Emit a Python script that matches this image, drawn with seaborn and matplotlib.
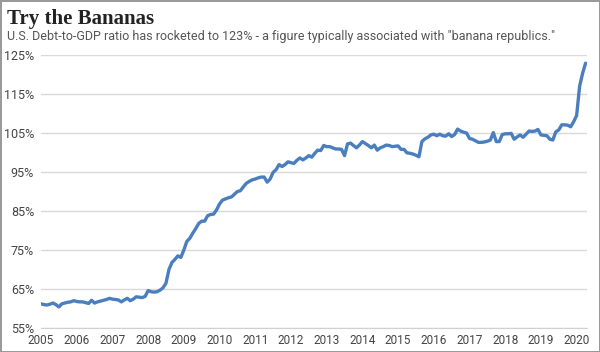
import numpy as np
import pandas as pd
import matplotlib.pyplot as plt
import seaborn as sns

# monthly debt-to-GDP ratio (%), Jan 2005 - Apr 2020
ratio_2005 = [61.2, 61.0, 60.9, 61.1, 61.4, 61.0, 60.4, 61.2, 61.4, 61.6, 61.7, 62.0]
ratio_2006 = [61.8, 61.7, 61.7, 61.5, 61.3, 62.1, 61.4, 61.7, 61.9, 62.1, 62.3, 62.6]
ratio_2007 = [62.4, 62.3, 62.2, 61.7, 62.2, 62.6, 62.0, 62.4, 63.0, 62.9, 62.8, 63.1]
ratio_2008 = [64.6, 64.3, 64.2, 64.3, 64.7, 65.3, 66.5, 70.0, 71.8, 72.6, 73.5, 73.1]
ratio_2009 = [75.0, 77.2, 78.0, 79.3, 80.5, 81.8, 82.4, 82.4, 83.8, 84.1, 84.2, 85.3]
ratio_2010 = [86.8, 87.8, 88.1, 88.4, 88.6, 89.3, 90.0, 90.2, 91.2, 92.1, 92.6, 93.0]
ratio_2011 = [93.2, 93.5, 93.7, 93.7, 92.4, 93.2, 94.9, 95.6, 96.9, 96.4, 96.9, 97.6]
ratio_2012 = [97.4, 97.2, 98.0, 98.6, 98.1, 98.6, 99.2, 98.8, 99.8, 100.6, 100.5, 101.8]
ratio_2013 = [101.5, 101.5, 101.2, 100.9, 100.9, 100.8, 99.2, 102.2, 102.4, 101.8, 101.2, 101.9]
ratio_2014 = [102.8, 102.3, 101.8, 101.2, 101.9, 100.6, 101.2, 101.5, 101.9, 101.8, 101.5, 101.6]
ratio_2015 = [101.7, 100.8, 100.8, 99.9, 99.8, 99.6, 99.3, 98.9, 102.8, 103.5, 103.9, 104.5]
ratio_2016 = [104.7, 104.3, 104.7, 104.3, 104.2, 104.8, 104.1, 104.6, 106.0, 105.5, 105.2, 105.0]
ratio_2017 = [103.6, 103.4, 103.0, 102.6, 102.6, 102.7, 102.9, 103.2, 105.1, 102.8, 102.8, 104.6]
ratio_2018 = [104.8, 104.8, 104.9, 103.4, 104.0, 104.5, 103.9, 104.7, 105.5, 105.4, 105.5, 105.9]
ratio_2019 = [104.5, 104.4, 104.3, 103.4, 103.2, 105.3, 105.8, 107.1, 107.1, 107.0, 106.6, 107.9]
ratio_2020 = [109.5, 117.0, 120.3, 122.9]

years = list(range(2005, 2021))
y_ticks = [55, 65, 75, 85, 95, 105, 115, 125]

ratio = (ratio_2005 + ratio_2006 + ratio_2007 + ratio_2008 + ratio_2009 + ratio_2010
         + ratio_2011 + ratio_2012 + ratio_2013 + ratio_2014 + ratio_2015 + ratio_2016
         + ratio_2017 + ratio_2018 + ratio_2019 + ratio_2020)
df = pd.DataFrame({'year': 2005 + np.arange(len(ratio)) / 12, 'ratio': ratio})

sns.set_style("white")
plt.rcParams['font.family'] = ['Roboto', 'DejaVu Sans']

fig = plt.figure(figsize=(6, 3.52), dpi=100)
fig.patch.set_edgecolor('#9a9a9a')
fig.patch.set_linewidth(2)
ax = fig.add_axes([41 / 600, 1 - 328 / 352, 546 / 600, 273 / 352])

ax.set_ylim(55, 125)
ax.set_xlim(2005, 2020.29)
ax.set_yticks(y_ticks)
ax.set_yticklabels([f'{v}%' for v in y_ticks])
ax.set_xticks(years)
ax.set_xticklabels([str(y) for y in years])
ax.yaxis.grid(True, color='#d9d9d9', linewidth=1)
ax.set_axisbelow(True)

sns.lineplot(data=df, x='year', y='ratio', ax=ax, color='#4a7ebf', linewidth=2.4)
ax.set_xlabel('')
ax.set_ylabel('')

for s in ['top', 'right', 'left']:
    ax.spines[s].set_visible(False)
ax.spines['bottom'].set_color('#d0d0d0')
ax.tick_params(axis='y', length=0, pad=5, labelsize=9, labelcolor='#444444')
ax.tick_params(axis='x', length=3, color='#d0d0d0', pad=1.5, labelsize=8.5, labelcolor='#444444')

fig.text(7 / 600, 1 - 24 / 352, 'Try the Bananas', family='Liberation Serif',
         fontweight='bold', fontsize=15, color='#222222')
fig.text(7 / 600, 1 - 40 / 352,
         'U.S. Debt-to-GDP ratio has rocketed to 123% - a figure typically associated with "banana republics."',
         fontsize=9, color='#555555')

fig.savefig('out.png', dpi=100)
